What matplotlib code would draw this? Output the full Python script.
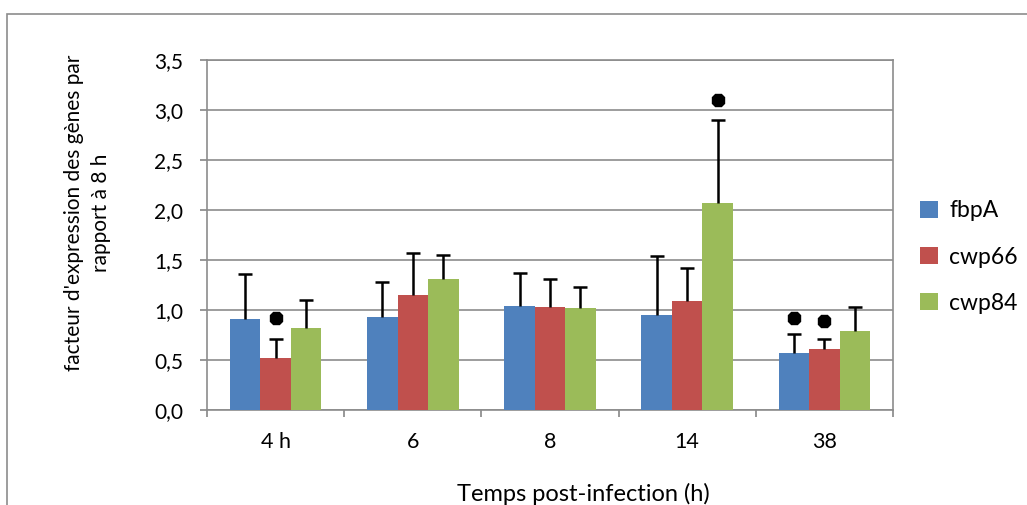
import numpy as np
import matplotlib
matplotlib.use("Agg")
import matplotlib.pyplot as plt
from matplotlib.patches import Rectangle

plt.rcParams['font.family'] = ['Lato', 'DejaVu Sans']

# data
categories = ["4 h", "6", "8", "14", "38"]
series = ["fbpA", "cwp66", "cwp84"]
colors = ["#4F81BD", "#C0504D", "#9BBB59"]
fbpA = [0.91, 0.93, 1.04, 0.95, 0.57]
cwp66 = [0.52, 1.15, 1.03, 1.09, 0.61]
cwp84 = [0.82, 1.31, 1.02, 2.07, 0.79]
fbpA_top = [1.36, 1.28, 1.37, 1.54, 0.76]
cwp66_top = [0.71, 1.57, 1.31, 1.42, 0.71]
cwp84_top = [1.10, 1.55, 1.23, 2.90, 1.03]
# significance marks: (category index, series index, height)
stars = [(0, 1, 0.92), (3, 2, 3.10), (4, 0, 0.92), (4, 1, 0.895)]
yticks = [0.0, 0.5, 1.0, 1.5, 2.0, 2.5, 3.0, 3.5]

values = [fbpA, cwp66, cwp84]
tops = [fbpA_top, cwp66_top, cwp84_top]

fig = plt.figure(figsize=(10.27, 5.05), dpi=100)
ax = fig.add_axes([207 / 1027, 95 / 505, 686 / 1027, 350 / 505])

# chart border
fig.patches.append(Rectangle((7 / 1027, -0.1), 1.2, (505 - 14) / 505 + 0.1,
                             transform=fig.transFigure, fill=False,
                             edgecolor="#8c8c8c", linewidth=1.2))

x = np.arange(len(categories))
w = 1 / 4.5
for i, name in enumerate(series):
    pos = x + (i - 1) * w
    ax.bar(pos, values[i], width=w, color=colors[i], label=name, zorder=3)
    # upper error bars only
    ax.vlines(pos, values[i], tops[i], color="black", linewidth=1.8, zorder=4)
    ax.plot(pos, tops[i], ls="none", marker="_", color="black",
            markersize=10, markeredgewidth=1.8, zorder=4)

for c, s, h in stars:
    ax.plot(c + (s - 1) * w, h, marker="8", color="black", markersize=10, zorder=5)

ax.set_xlim(-0.5, len(categories) - 0.5)
ax.set_ylim(0, 3.5)
ax.set_yticks(yticks)
ax.set_yticklabels([("%.1f" % v).replace(".", ",") for v in yticks], fontsize=15)
ax.set_xticks(x)
ax.set_xticklabels(categories, fontsize=15.5)
ax.tick_params(axis="x", length=0, pad=16)
ax.set_xticks(np.arange(len(categories) + 1) - 0.5, minor=True)
ax.tick_params(axis="x", which="minor", length=5, color="#868686", width=1.2)
ax.tick_params(axis="y", length=5, color="#868686", width=1.2, pad=12)
ax.grid(axis="y", color="#8c8c8c", linewidth=1.2, zorder=0)
for sp in ["left", "bottom", "right", "top"]:
    ax.spines[sp].set_color("#8c8c8c")
    ax.spines[sp].set_linewidth(1.2)

ax.set_ylabel("facteur d'expression des gènes par\nrapport à 8 h", fontsize=15,
              linespacing=1.45)
ax.yaxis.set_label_coords((111 - 207) / 686, 0.563)
fig.text(583 / 1027, 1 - 494 / 505, "Temps post-infection (h)", fontsize=17,
         ha="center", va="center")

ax.legend(loc="center left", bbox_to_anchor=(1.01, 0.437), frameon=False,
          fontsize=16.5, handlelength=0.75, handleheight=0.75, labelspacing=1.1,
          handletextpad=0.5)

fig.savefig("out.png", dpi=100)
